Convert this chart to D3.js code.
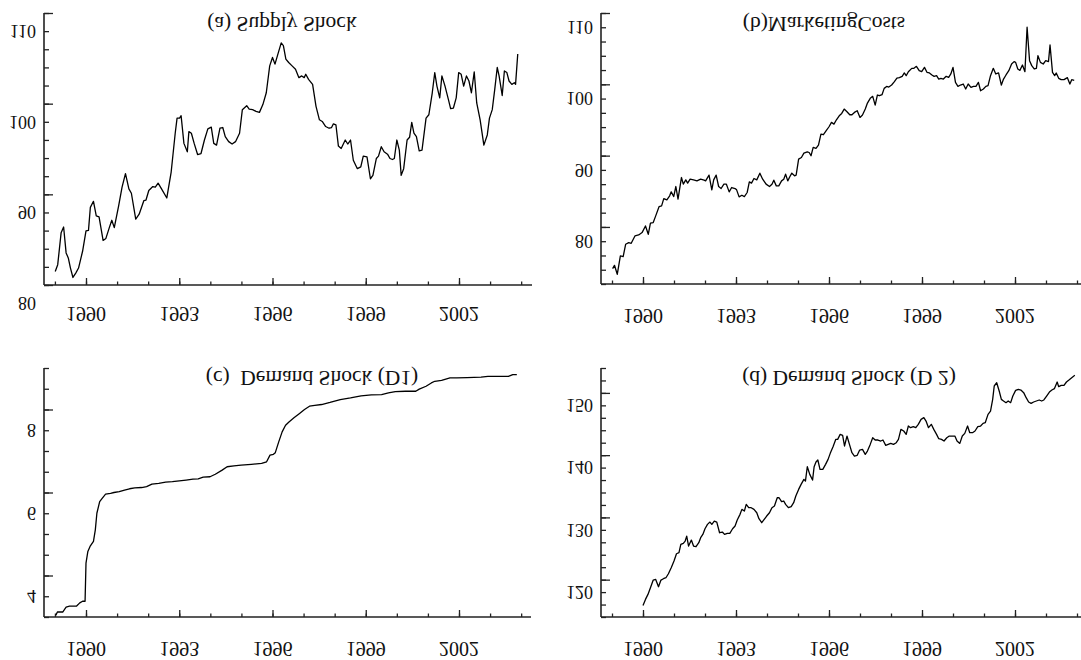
<!DOCTYPE html>
<html>
<head>
<meta charset="utf-8">
<script src="https://cdn.jsdelivr.net/npm/d3@7"></script>
<style>
  body { margin: 0; background: #fff; }
  svg { display: block; }
</style>
</head>
<body>
<div id="chart"></div>
<script>
// ---- data (monthly series, decimal years) ----

// (a) Supply Shock
const supplyYears = [1989.01,1989.09,1989.20,1989.28,1989.36,1989.43,1989.50,1989.58,1989.67,1989.76,1989.89,1990.00,1990.08,1990.14,1990.24,1990.33,1990.42,1990.55,1990.64,1990.75,1990.83,1990.91,1991.05,1991.16,1991.27,1991.38,1991.46,1991.60,1991.71,1991.86,1991.93,1992.02,1992.15,1992.23,1992.32,1992.43,1992.60,1992.74,1992.87,1992.93,1993.01,1993.06,1993.15,1993.26,1993.31,1993.39,1993.48,1993.59,1993.70,1993.81,1993.92,1994.03,1994.11,1994.20,1994.31,1994.40,1994.48,1994.59,1994.70,1994.81,1994.94,1995.03,1995.17,1995.25,1995.36,1995.47,1995.58,1995.69,1995.80,1995.91,1996.00,1996.08,1996.19,1996.28,1996.35,1996.43,1996.52,1996.63,1996.74,1996.85,1996.94,1997.02,1997.07,1997.16,1997.29,1997.40,1997.51,1997.60,1997.71,1997.82,1997.90,1997.96,1998.04,1998.12,1998.21,1998.34,1998.42,1998.51,1998.60,1998.73,1998.84,1998.92,1999.04,1999.15,1999.23,1999.34,1999.41,1999.50,1999.59,1999.70,1999.78,1999.86,1999.92,2000.00,2000.08,2000.14,2000.22,2000.33,2000.41,2000.48,2000.55,2000.63,2000.72,2000.81,2000.94,2001.03,2001.14,2001.22,2001.29,2001.38,2001.45,2001.55,2001.66,2001.73,2001.82,2001.91,2001.99,2002.07,2002.15,2002.24,2002.32,2002.40,2002.49,2002.57,2002.68,2002.80,2002.91,2002.98,2003.07,2003.15,2003.23,2003.29,2003.39,2003.46,2003.54,2003.61,2003.70,2003.78,2003.82,2003.89];
const supplyValues = [83.5,84.24,87.77,88.4,85.54,84.98,83.87,82.83,83.31,83.87,85.72,87.96,88.03,90.56,91.23,89.63,89.52,86.91,87.14,88.33,89.14,88.33,90.74,92.79,94.28,92.6,92.12,89.26,89.81,91.3,91.37,92.42,92.86,92.79,93.23,92.6,91.6,94.46,98.74,100.41,100.41,100.67,97.62,96.69,98.92,98.74,97.62,96.39,96.5,97.99,99.22,99.41,97.62,97.43,99.29,99.37,98.36,97.81,97.55,97.81,98.74,101.34,101.78,101.41,101.34,101.15,101.04,101.9,103.2,106.17,107.1,106.36,107.66,108.7,108.4,106.91,106.54,106.17,105.8,104.87,105.06,104.87,105.24,104.68,104.13,101.71,100.22,100.04,99.48,99.29,99.37,99.78,99.67,97.32,97.06,97.99,97.55,97.99,95.76,94.83,95.02,96.21,96.13,93.72,94.09,95.95,96.21,97.25,96.69,96.43,95.95,95.84,95.95,97.99,96.88,94.09,94.83,97.99,98.29,99.93,98.74,98.36,96.8,96.88,100.41,100.78,103.2,105.43,103.94,102.64,105.06,103.94,102.45,101.45,101.52,102.64,105.43,105.24,103.94,105.06,104.5,103.2,105.5,102.08,100.22,97.43,98.55,100.41,101.34,103.57,105.99,105.06,102.9,105.61,105.43,104.5,104.13,104.31,104.13,107.47];

// (b) Marketing Costs
const marketingYears = [1989.02,1989.08,1989.17,1989.27,1989.36,1989.44,1989.54,1989.62,1989.74,1989.86,1989.97,1990.08,1990.17,1990.24,1990.33,1990.41,1990.52,1990.60,1990.67,1990.77,1990.86,1990.91,1990.99,1991.06,1991.13,1991.24,1991.30,1991.38,1991.44,1991.52,1991.63,1991.74,1991.86,1991.97,1992.02,1992.13,1992.22,1992.28,1992.36,1992.44,1992.52,1992.61,1992.69,1992.78,1992.86,1992.97,1993.02,1993.10,1993.19,1993.27,1993.36,1993.43,1993.50,1993.58,1993.67,1993.77,1993.86,1993.97,1994.08,1994.16,1994.22,1994.30,1994.38,1994.47,1994.54,1994.60,1994.67,1994.74,1994.80,1994.89,1994.94,1995.02,1995.11,1995.19,1995.30,1995.36,1995.42,1995.49,1995.58,1995.66,1995.74,1995.82,1995.91,1996.00,1996.08,1996.16,1996.24,1996.33,1996.41,1996.49,1996.58,1996.67,1996.74,1996.82,1996.91,1997.00,1997.08,1997.17,1997.24,1997.33,1997.41,1997.49,1997.56,1997.63,1997.71,1997.78,1997.86,1997.93,1998.02,1998.11,1998.19,1998.27,1998.36,1998.43,1998.49,1998.56,1998.67,1998.74,1998.82,1998.91,1998.99,1999.08,1999.16,1999.24,1999.32,1999.39,1999.47,1999.54,1999.61,1999.69,1999.78,1999.86,1999.93,2000.00,2000.08,2000.16,2000.24,2000.33,2000.41,2000.49,2000.58,2000.66,2000.74,2000.82,2000.89,2000.98,2001.06,2001.13,2001.21,2001.30,2001.38,2001.47,2001.56,2001.63,2001.71,2001.80,2001.89,2001.97,2002.02,2002.09,2002.16,2002.24,2002.32,2002.39,2002.47,2002.54,2002.62,2002.69,2002.74,2002.82,2002.91,2002.99,2003.08,2003.13,2003.21,2003.28,2003.33,2003.41,2003.49,2003.58,2003.69,2003.77,2003.83,2003.91];
const marketingValues = [76.15,76.62,75.36,77.93,77.84,79.57,79.8,79.71,80.74,80.88,81.21,82.14,80.97,82.52,82.61,83.55,84.86,84.95,85.98,85.8,86.36,86.92,86.26,87.67,85.89,88.93,88.0,88.6,88.14,88.7,88.6,88.46,88.7,88.56,88.46,89.26,87.2,88.6,89.26,87.67,87.39,88.0,88.0,86.92,87.53,87.39,87.2,86.22,86.45,86.26,86.83,88.32,88.14,88.79,88.6,89.54,88.7,88.0,87.67,88.0,88.56,87.76,87.76,88.46,88.7,89.4,88.46,89.07,89.54,89.17,89.26,91.51,91.74,92.35,92.54,92.44,91.98,93.15,93.01,93.47,95.02,94.93,95.49,96.05,96.66,96.42,97.03,97.59,97.92,98.53,98.16,97.73,97.73,98.06,98.3,97.36,97.69,98.53,99.37,100.03,100.31,99.09,100.5,100.4,100.54,101.43,101.71,101.62,101.9,102.37,102.88,102.93,103.12,103.59,103.21,103.77,104.24,104.24,104.52,103.91,103.77,104.38,103.68,103.59,103.31,103.12,103.21,102.74,102.84,102.74,103.12,102.98,103.45,104.38,102.28,101.71,101.9,102.04,101.34,102.04,101.57,101.71,101.71,102.28,101.1,101.34,101.71,101.81,103.21,104.24,103.45,103.59,101.9,102.74,103.31,103.91,104.85,105.18,105.08,104.15,103.96,104.71,103.77,110.0,105.32,104.62,104.15,104.24,106.02,105.08,104.85,105.32,105.18,107.52,103.68,103.21,103.59,102.84,102.65,102.65,102.93,102.04,102.65,102.56];

// (c) Demand Shock (D1)
const demand1Years = [1989.03,1989.08,1989.25,1989.36,1989.47,1989.69,1989.80,1989.89,1989.97,1990.00,1990.06,1990.13,1990.24,1990.30,1990.35,1990.44,1990.52,1990.63,1990.79,1990.90,1991.07,1991.24,1991.40,1991.57,1991.79,1991.95,1992.12,1992.34,1992.56,1992.78,1993.00,1993.22,1993.44,1993.61,1993.77,1993.99,1994.16,1994.38,1994.54,1994.76,1994.99,1995.32,1995.65,1995.81,1995.92,1996.03,1996.09,1996.20,1996.31,1996.42,1996.53,1996.69,1996.86,1997.03,1997.19,1997.36,1997.58,1997.85,1998.18,1998.51,1998.85,1999.18,1999.51,1999.73,1999.95,2000.28,2000.61,2000.72,2000.94,2001.11,2001.22,2001.44,2001.71,2001.93,2002.26,2002.71,2002.93,2003.26,2003.59,2003.73,2003.86];
const demand1Values = [3.54,3.62,3.62,3.74,3.76,3.76,3.84,3.88,3.88,4.8,5.08,5.2,5.32,5.6,6.0,6.28,6.36,6.46,6.48,6.5,6.52,6.56,6.59,6.61,6.62,6.64,6.7,6.72,6.75,6.76,6.78,6.8,6.82,6.83,6.87,6.88,6.94,7.04,7.12,7.14,7.16,7.18,7.2,7.24,7.4,7.42,7.46,7.72,7.96,8.12,8.2,8.3,8.4,8.5,8.58,8.6,8.62,8.67,8.74,8.78,8.83,8.85,8.86,8.9,8.93,8.94,8.94,8.99,9.06,9.14,9.18,9.2,9.26,9.26,9.27,9.28,9.3,9.3,9.3,9.34,9.34];

// (d) Demand Shock (D 2)
const demand2Years = [1990.00,1990.08,1990.16,1990.24,1990.33,1990.41,1990.50,1990.58,1990.66,1990.74,1990.82,1990.91,1991.00,1991.08,1991.16,1991.22,1991.30,1991.36,1991.41,1991.47,1991.56,1991.63,1991.71,1991.80,1991.86,1991.93,1992.00,1992.08,1992.16,1992.22,1992.30,1992.38,1992.47,1992.56,1992.63,1992.72,1992.80,1992.89,1992.97,1993.04,1993.13,1993.19,1993.27,1993.33,1993.41,1993.49,1993.58,1993.67,1993.74,1993.83,1993.91,1993.99,1994.08,1994.16,1994.24,1994.33,1994.39,1994.47,1994.54,1994.60,1994.69,1994.78,1994.86,1994.93,1995.02,1995.10,1995.19,1995.24,1995.30,1995.38,1995.47,1995.52,1995.58,1995.64,1995.71,1995.80,1995.89,1995.97,1996.04,1996.13,1996.22,1996.28,1996.36,1996.44,1996.50,1996.58,1996.66,1996.74,1996.82,1996.91,1996.99,1997.08,1997.17,1997.24,1997.33,1997.41,1997.49,1997.58,1997.67,1997.74,1997.83,1997.91,1997.99,1998.08,1998.17,1998.24,1998.32,1998.41,1998.49,1998.56,1998.63,1998.72,1998.80,1998.88,1998.97,1999.06,1999.13,1999.21,1999.30,1999.38,1999.47,1999.54,1999.63,1999.71,1999.80,1999.88,1999.97,2000.06,2000.13,2000.22,2000.30,2000.38,2000.47,2000.54,2000.63,2000.71,2000.80,2000.89,2000.97,2001.04,2001.13,2001.21,2001.28,2001.33,2001.41,2001.49,2001.56,2001.63,2001.71,2001.78,2001.86,2001.93,2002.02,2002.11,2002.19,2002.28,2002.36,2002.44,2002.52,2002.60,2002.69,2002.78,2002.86,2002.93,2003.02,2003.11,2003.19,2003.27,2003.36,2003.41,2003.49,2003.58,2003.66,2003.74,2003.83,2003.93];
const demand2Values = [117.86,118.83,119.63,120.7,121.93,122.04,120.86,121.93,122.15,122.31,122.95,123.92,124.99,126.16,126.33,127.66,127.83,128.2,129.0,127.4,128.36,127.4,127.29,127.93,128.74,129.27,130.18,130.88,131.25,130.88,131.41,131.25,129.54,129.65,129.27,129.43,129.43,130.18,130.61,131.57,132.49,133.29,133.02,134.09,133.56,133.56,133.29,132.75,131.79,131.15,131.68,132.22,132.75,133.56,133.82,135.16,135.16,134.52,134.63,134.09,133.56,133.72,134.36,135.43,136.5,137.31,138.11,137.84,140.14,138.91,138.0,140.14,140.89,141.22,139.72,139.72,140.52,141.32,142.29,143.36,144.54,144.54,145.34,145.18,143.47,145.07,143.73,142.39,141.86,141.97,142.82,142.93,142.13,142.66,143.73,144.8,144.43,144.43,144.27,144.43,143.57,143.73,143.89,143.73,144.0,144.54,146.14,145.88,145.34,146.68,146.41,146.57,146.41,146.95,147.75,148.02,147.48,146.41,146.95,146.14,145.34,144.64,144.54,144.27,144.8,145.07,145.07,145.07,144.27,143.89,145.07,145.5,146.68,145.61,145.61,145.88,146.57,146.68,147.11,147.21,148.55,149.09,150.96,153.11,153.64,152.3,150.96,150.7,150.43,150.7,150.43,151.5,152.41,152.57,152.46,152.04,151.23,150.54,150.32,150.54,150.7,150.86,150.7,150.86,151.5,152.14,152.46,152.68,153.75,153.0,153.21,153.21,153.75,154.07,154.45,154.82];

// x axis: one tick per year, labels every 3 years
const yearTicks = [1989,1990,1991,1992,1993,1994,1995,1996,1997,1998,1999,2000,2001,2002,2003,2004];
const yearLabels = [1990,1993,1996,1999,2002];

// y axis labels and long ticks per panel
const supplyLabels = [80,90,100,110];
const supplyLong = [82,92,102,112];
const marketingLabels = [80,90,100,110];
const marketingLong = [82,92,102,112];
const demand1Labels = [4,6,8];
const demand1Long = [4.5,6.5,8.5];
const demand2Labels = [120,130,140,150];
const demand2Long = [122,132,142,152];

// ---- layout of the 4 panels ----
const panels = [
  { title: "(a) Supply Shock", years: supplyYears, values: supplyValues,
    labels: supplyLabels, long: supplyLong, yDomain: [82, 112], step: 2,
    axisX: 44, axisEnd: 532, top: 13, bottom: 285, x1990: 86, x2002: 459,
    titleX: 282, titleY: 24, yearLabelY: 314 },
  { title: "(b)MarketingCosts", years: marketingYears, values: marketingValues,
    labels: marketingLabels, long: marketingLong, yDomain: [74, 112], step: 2,
    axisX: 601, axisEnd: 1081, top: 13, bottom: 284, x1990: 643, x2002: 1015,
    titleX: 824, titleY: 24, yearLabelY: 316 },
  { title: "(c)  Demand Shock (D1)", years: demand1Years, values: demand1Values,
    labels: demand1Labels, long: demand1Long, yDomain: [3.5, 9.5], step: 0.5,
    axisX: 44, axisEnd: 531, top: 368, bottom: 617, x1990: 86, x2002: 459,
    titleX: 312, titleY: 378, yearLabelY: 649 },
  { title: "(d) Demand Shock (D 2)", years: demand2Years, values: demand2Values,
    labels: demand2Labels, long: demand2Long, yDomain: [116, 156], step: 2,
    axisX: 601, axisEnd: 1081, top: 368, bottom: 617, x1990: 643, x2002: 1015,
    titleX: 849, titleY: 378, yearLabelY: 649 }
];

const font = "'Liberation Serif', 'Times New Roman', serif";
const axisColor = "#222";

const svg = d3.select("#chart")
  .append("svg")
    .attr("width", 1081)
    .attr("height", 660)
    .style("background", "#fff");

// text is drawn upside down (mirrored top to bottom), centred on (x, y)
function flipText(g, x, y, str, size, anchor) {
  g.append("text")
    .attr("transform", "translate(" + x + "," + y + ") scale(1,-1)")
    .attr("y", size * 0.34)
    .attr("text-anchor", anchor)
    .attr("font-family", font)
    .attr("font-size", size)
    .attr("fill", "#111")
    .style("white-space", "pre")
    .text(str);
}

panels.forEach(p => {
  const g = svg.append("g");

  const x = d3.scaleLinear().domain([1990, 2002]).range([p.x1990, p.x2002]);
  const y = d3.scaleLinear().domain(p.yDomain).range([p.bottom, p.top]);

  const yTicks = d3.range(p.yDomain[0], p.yDomain[1] + p.step / 2, p.step);

  // y ticks (pointing inside)
  g.append("g")
    .attr("transform", "translate(" + p.axisX + ",0)")
    .attr("color", axisColor)
    .call(d3.axisLeft(y).tickValues(yTicks).tickSize(-5).tickFormat(""))
    .call(a => a.select(".domain").remove());
  g.append("g")
    .attr("transform", "translate(" + p.axisX + ",0)")
    .attr("color", axisColor)
    .call(d3.axisLeft(y).tickValues(p.long).tickSize(-9).tickFormat(""))
    .call(a => a.select(".domain").remove());

  // x ticks (pointing up)
  g.append("g")
    .attr("transform", "translate(0," + p.bottom + ")")
    .attr("color", axisColor)
    .call(d3.axisBottom(x).tickValues(yearTicks).tickSize(-3.5).tickFormat(""))
    .call(a => a.select(".domain").remove());
  g.append("g")
    .attr("transform", "translate(0," + p.bottom + ")")
    .attr("color", axisColor)
    .call(d3.axisBottom(x).tickValues(yearLabels).tickSize(-7).tickFormat(""))
    .call(a => a.select(".domain").remove());

  g.selectAll(".tick line").attr("stroke-width", 1.3);

  // axis lines
  g.append("line")
    .attr("x1", p.axisX).attr("y1", p.top).attr("x2", p.axisX).attr("y2", p.bottom)
    .attr("stroke", axisColor).attr("stroke-width", 1.6);
  g.append("line")
    .attr("x1", p.axisX).attr("y1", p.bottom).attr("x2", p.axisEnd).attr("y2", p.bottom)
    .attr("stroke", axisColor).attr("stroke-width", 1.6);

  // tick labels
  p.labels.forEach(v => flipText(g, p.axisX - 8, y(v), String(v), 18, "end"));
  yearLabels.forEach(v => flipText(g, x(v), p.yearLabelY, String(v), 20, "middle"));

  // title
  flipText(g, p.titleX, p.titleY, p.title, 21.5, "middle");

  // the series
  const n = Math.min(p.years.length, p.values.length);
  const pts = d3.range(n).map(i => [p.years[i], p.values[i]]);
  g.append("path")
    .datum(pts)
    .attr("fill", "none")
    .attr("stroke", "#000")
    .attr("stroke-width", 1.3)
    .attr("stroke-linejoin", "round")
    .attr("d", d3.line().x(d => x(d[0])).y(d => y(d[1])));
});
</script>
</body>
</html>
